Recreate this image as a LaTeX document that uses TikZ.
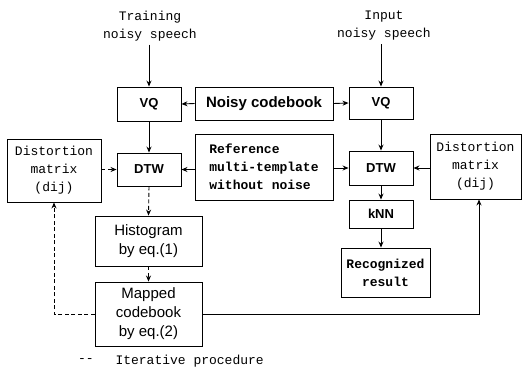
\documentclass[tikz,border=0pt]{standalone}
\usepackage{fontspec}
\setmainfont{Liberation Mono}
\newfontfamily\monof{Liberation Mono}
\newfontfamily\sansf{Liberation Sans}
\usetikzlibrary{arrows.meta}
\begin{document}
\begin{tikzpicture}[x=1pt,y=-1pt,
  box/.style={draw, line width=0.9pt, inner sep=0pt, align=center},
  mtxt/.style={font=\monof\fontsize{13}{18}\selectfont},
  mbtxt/.style={font=\monof\bfseries\fontsize{13}{18}\selectfont},
  stxt/.style={font=\sansf\fontsize{15}{19}\selectfont},
  sbtxt/.style={font=\sansf\bfseries\fontsize{13}{18}\selectfont},
  nctxt/.style={font=\sansf\bfseries\fontsize{15}{18}\selectfont},
  arr/.style={line width=0.9pt, -{Stealth[length=6pt,width=5pt]}},
  dsh/.style={dash pattern=on 4pt off 2.5pt}]
\useasboundingbox (0,0) rectangle (525,384);

\node[mtxt, align=center] (train) at (150,26) {Training\\noisy speech};
\node[mtxt, align=center] (input) at (384,26) {Input\\noisy speech};

\node[box, sbtxt, minimum width=64pt, minimum height=34pt] (vq1) at (149,104) {VQ};
\node[box, nctxt, minimum width=138pt, minimum height=33pt] (nc) at (264,103.5) {Noisy codebook};
\node[box, sbtxt, minimum width=64pt, minimum height=32pt] (vq2) at (381,103) {VQ};

\node[box, mtxt, minimum width=94pt, minimum height=63pt] (dist1) at (54,170.5) {Distortion\\matrix\\(dij)};
\node[box, sbtxt, minimum width=64pt, minimum height=33pt] (dtw1) at (149,169.5) {DTW};
\node[box, mbtxt, minimum width=138pt, minimum height=66pt, align=left] (ref) at (264,167) {Reference\\multi-template\\without noise};
\node[box, sbtxt, minimum width=64pt, minimum height=34pt] (dtw2) at (381,168) {DTW};
\node[box, mtxt, minimum width=91pt, minimum height=65pt] (dist2) at (475.5,166.5) {Distortion\\matrix\\(dij)};

\node[box, sbtxt, minimum width=64pt, minimum height=28pt] (knn) at (381,214) {kNN};
\node[box, mbtxt, minimum width=89pt, minimum height=49pt] (rec) at (385.5,272.5) {Recognized\\result};

\node[box, stxt, minimum width=107pt, minimum height=50pt] (hist) at (148.5,241) {Histogram\\by eq.(1)};
\node[box, stxt, minimum width=107pt, minimum height=64pt] (map) at (148.5,314) {Mapped\\codebook\\by eq.(2)};

\node[mtxt] (lgd) at (86,361) {-{}-};
\node[mtxt, anchor=west] (lgt) at (112,361) {Iterative procedure};

\draw[arr] (vq1.north |- train.south) -- (vq1.north);
\draw[arr] (vq2.north |- input.south) -- (vq2.north);
\draw[arr] (nc.west) -- (vq1.east);
\draw[arr] (nc.east) -- (vq2.west);
\draw[arr] (vq1.south) -- (dtw1.north);
\draw[arr] (vq2.south) -- (dtw2.north);
\draw[arr, dsh] (dist1.east |- dtw1.west) -- (dtw1.west);
\draw[arr] (ref.west |- dtw1.east) -- (dtw1.east);
\draw[arr] (ref.east |- dtw2.west) -- (dtw2.west);
\draw[arr] (dist2.west |- dtw2.east) -- (dtw2.east);
\draw[arr, dsh] (dtw1.south) -- (hist.north);
\draw[arr, dsh] (hist.south) -- (map.north);
\draw[arr] (dtw2.south) -- (knn.north);
\draw[arr] (knn.south) -- (knn.south |- rec.north);
\draw[arr, dsh] (map.west) -| (dist1.south);
\coordinate (d2in) at ([xshift=3.5pt]dist2.south);
\draw[arr] (map.east) -| (d2in);
\end{tikzpicture}
\end{document}
